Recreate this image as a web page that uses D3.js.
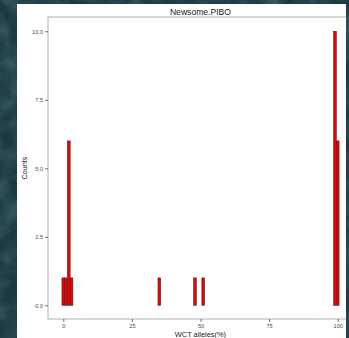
<!DOCTYPE html>
<html>
<head>
<meta charset="utf-8">
<script src="https://cdn.jsdelivr.net/npm/d3@7"></script>
<style>
  html, body { margin: 0; padding: 0; background: #16323a; }
  svg { display: block; }
  text { font-family: "Liberation Sans", Arial, sans-serif; }
</style>
</head>
<body>
<svg id="chart" width="349" height="338"></svg>
<script>
// Histogram of WCT allele percentages (bins of width 1, non-empty bins listed)
const binValues = [0, 1, 2, 3, 35, 48, 51, 99, 100];
const binCounts = [1, 1, 6, 1, 1, 1, 1, 10, 6];
const xTicks = [0, 25, 50, 75, 100];
const yTicks = [0, 2.5, 5, 7.5, 10];
const title = "Newsome.PIBO";
const xLabel = "WCT alleles(%)";
const yLabel = "Counts";

const W = 349, H = 338;
const svg = d3.select("#chart");

// textured dark backdrop
const defs = svg.append("defs");
const tex = defs.append("filter").attr("id", "tex").attr("x", 0).attr("y", 0).attr("width", 1).attr("height", 1);
tex.append("feTurbulence").attr("type", "fractalNoise").attr("baseFrequency", 0.05).attr("numOctaves", 3).attr("seed", 7).attr("result", "n");
tex.append("feColorMatrix").attr("in", "n").attr("type", "matrix")
  .attr("values", "0 0 0 0 0.05  0 0 0 0 0.13  0 0 0 0 0.15  0 0 0 1.4 -0.45");
svg.append("rect").attr("width", W).attr("height", H).attr("fill", "#1b3940");
svg.append("rect").attr("width", W).attr("height", H).attr("filter", "url(#tex)");

// white figure card (cropped on the right)
const card = { x0: 17, y0: 4, x1: 346, y1: H };
svg.append("rect").attr("x", card.x0).attr("y", card.y0)
  .attr("width", card.x1 - card.x0).attr("height", card.y1 - card.y0).attr("fill", "#ffffff");
defs.append("clipPath").attr("id", "card").append("rect")
  .attr("x", card.x0).attr("y", card.y0).attr("width", card.x1 - card.x0).attr("height", card.y1 - card.y0);

const g = svg.append("g").attr("clip-path", "url(#card)");

// panel
const panel = { left: 48, top: 17, bottom: 319 };
const x = d3.scaleLinear().domain([0, 100]).range([63.3, 337.7]);
const y = d3.scaleLinear().domain([0, 10]).range([305.3, 31.3]);
const xDom = [x.invert(panel.left), 105.55];
const panelRight = x(xDom[1]);

// all bins 0..100, empty ones drawn as flat outlines
const counts = new Map(binValues.map((v, i) => [v, binCounts[i]]));
const bins = d3.range(0, 101).map(v => ({ v, c: counts.get(v) || 0 }));

g.append("g").selectAll("rect").data(bins).join("rect")
  .attr("x", d => x(d.v - 0.5))
  .attr("width", d => x(d.v + 0.5) - x(d.v - 0.5))
  .attr("y", d => y(d.c))
  .attr("height", d => y(0) - y(d.c))
  .attr("fill", "#f00000")
  .attr("stroke", "#2a2a2a")
  .attr("stroke-width", 0.55);

// panel border
g.append("rect").attr("x", panel.left).attr("y", panel.top)
  .attr("width", panelRight - panel.left).attr("height", panel.bottom - panel.top)
  .attr("fill", "none").attr("stroke", "#b8b8b8").attr("stroke-width", 1.1);

// y axis
const yAxis = d3.axisLeft(y).tickValues(yTicks).tickFormat(d3.format(".1f")).tickSize(3).tickPadding(2);
const ya = g.append("g").attr("transform", `translate(${panel.left},0)`).call(yAxis);
ya.select(".domain").remove();
ya.selectAll(".tick line").attr("stroke", "#333").attr("stroke-width", 0.7);
ya.selectAll(".tick text").attr("font-size", 5.6).attr("fill", "#4d4d4d");

// x axis
const xAxis = d3.axisBottom(x).tickValues(xTicks).tickSize(3).tickPadding(2);
const xa = g.append("g").attr("transform", `translate(0,${panel.bottom})`).call(xAxis);
xa.select(".domain").remove();
xa.selectAll(".tick line").attr("stroke", "#333").attr("stroke-width", 0.7);
xa.selectAll(".tick text").attr("font-size", 5.6).attr("fill", "#4d4d4d");

// labels
const cx = (panel.left + panelRight) / 2;
g.append("text").attr("x", cx).attr("y", 15).attr("text-anchor", "middle")
  .attr("font-size", 8.6).attr("fill", "#1a1a1a").text(title);
g.append("text").attr("x", cx).attr("y", 337).attr("text-anchor", "middle")
  .attr("font-size", 7.4).attr("fill", "#1a1a1a").text(xLabel);
g.append("text").attr("transform", `translate(26.5,${(panel.top + panel.bottom) / 2}) rotate(-90)`)
  .attr("text-anchor", "middle").attr("font-size", 7.2).attr("fill", "#1a1a1a").text(yLabel);
</script>
</body>
</html>
